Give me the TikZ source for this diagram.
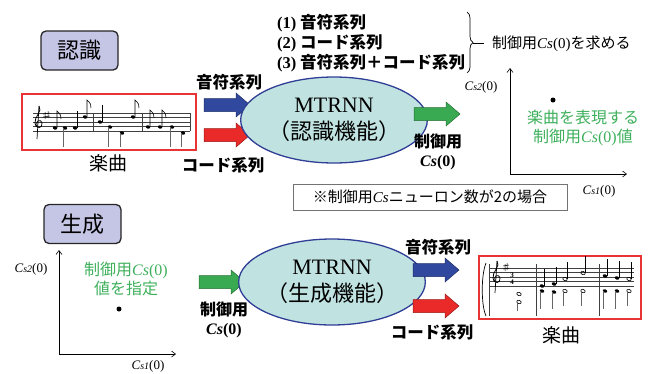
\documentclass[tikz,border=0pt]{standalone}
\usepackage{fontspec}
\setmainfont{Liberation Serif}
\newfontfamily\jp{Noto Sans CJK JP}
\usetikzlibrary{arrows.meta,decorations.pathreplacing,shapes.geometric}
\definecolor{labfill}{RGB}{197,197,229}
\definecolor{ellfill}{RGB}{192,227,225}
\definecolor{elldraw}{RGB}{48,62,150}
\definecolor{arblue}{RGB}{48,72,158}
\definecolor{arred}{RGB}{233,42,40}
\definecolor{argreen}{RGB}{58,170,82}
\definecolor{gtext}{RGB}{62,176,92}
\definecolor{boxred}{RGB}{232,52,52}
\newcommand{\csit}{{\rmfamily\itshape Cs}}
\newcommand{\blockarrow}[4]{%
  \draw[draw=#4!65!black, fill=#4, line width=0.5pt] (#2,#3-6.5) -- ++(32,0) -- ++(0,-5.5)
    -- ++(14,12) -- ++(-14,12) -- ++(0,-5.5) -- ++(-32,0) -- cycle;
  \coordinate (#1) at (#2,#3);}
\begin{document}
\begin{tikzpicture}[x=1pt,y=-1pt,
  lab/.style={draw=black!85, fill=labfill, rounded corners=5pt, line width=1.3pt,
    minimum width=77pt, minimum height=39pt, inner sep=0pt, font=\jp\fontsize{22}{24}\selectfont},
  ell/.style={ellipse, draw=elldraw, fill=ellfill, line width=1.3pt, minimum width=154pt,
    minimum height=86pt, inner sep=0pt, align=center, font=\fontsize{22}{27}\selectfont},
  blab/.style={font=\jp\bfseries\fontsize{16.5}{18}\selectfont, inner sep=0pt},
  jtxt/.style={font=\jp\fontsize{15}{17}\selectfont, inner sep=0pt},
  gtxt/.style={font=\jp\fontsize{16}{19}\selectfont, text=gtext, align=center, inner sep=0pt},
  scorebox/.style={draw=boxred, line width=1.3pt, fill=white},
  axis/.style={-{Straight Barb[length=4pt,width=6pt]}, line width=0.6pt},
  axlab/.style={font=\fontsize{13}{15}\selectfont, inner sep=0pt},
  staff/.style={line width=0.5pt, black!75},
  stem/.style={line width=0.6pt, black!60}
]
\useasboundingbox (0,0) rectangle (654,373);

% ===== recognition =====
\node[lab] (rec) at (79.5,50.5) {認識};

\node[scorebox, minimum width=174pt, minimum height=56pt, inner sep=0pt] (score1) at (109,122) {};
\begin{scope}
  \foreach \yy in {113,117.5,122,126.5,131} \draw[staff] (33,\yy) -- (190,\yy);
  \foreach \xx in {93,142,190} \draw[staff] (\xx,113) -- (\xx,131);
  \draw[line width=0.8pt] (39,106) .. controls (43,111) and (34,117) .. (35,123)
     .. controls (36,130) and (43,128) .. (42,123) .. controls (41,118) and (35,121) .. (37,126);
  \draw[line width=0.7pt] (39,106) -- (37,139);
  \draw[line width=0.5pt] (45,112) -- (45,119) (48,111) -- (48,118) (43,114) -- (50,113) (43,117) -- (50,116);
  \foreach \xx/\yy in {55/128,85/117,133/117,148/127,160/127}{
    \fill[rotate around={-20:(\xx,\yy)}] (\xx,\yy) ellipse (2.2pt and 1.6pt);
    \draw[line width=0.6pt] (\xx+2,\yy) -- (\xx+2,\yy-17) .. controls (\xx+5,\yy-14) and (\xx+7,\yy-12) .. (\xx+6,\yy-9);
  }
  \foreach \xx/\yy in {75/128,100/122}{
    \fill[rotate around={-20:(\xx,\yy)}] (\xx,\yy) ellipse (2.2pt and 1.6pt);
    \draw[line width=0.6pt] (\xx+2,\yy) -- (\xx+2,\yy-17);
  }
  \foreach \xx/\yy in {65/128,110/127,122/133,172/127,183/133}{
    \fill[rotate around={-20:(\xx,\yy)}] (\xx,\yy) ellipse (2.2pt and 1.6pt);
    \draw[stem] (\xx-2,\yy) -- (\xx-2,147);
  }
\end{scope}
\node[font=\jp\fontsize{19}{21}\selectfont, inner sep=0pt] (gakkyoku1) at (108,163) {楽曲};

\node[blab] (onpu1) at (229,82) {音符系列};
\blockarrow{ba1}{204}{105}{arblue}
\blockarrow{ra1}{204}{135}{arred}
\node[blab] (code1) at (223,165) {コード系列};

\node[ell] (mt1) at (334,120) {MTRNN\\{\jp （認識機能）}};

\node[blab, anchor=west, align=left, font=\jp\bfseries\fontsize{16.5}{20}\selectfont] (list) at (277,43)
  {{\rmfamily\bfseries (1)} 音符系列\\{\rmfamily\bfseries (2)} コード系列\\{\rmfamily\bfseries (3)} 音符系列＋コード系列};
\coordinate (brtop) at (467,12);
\coordinate (brbot) at (467,73);
\draw[line width=0.7pt, decorate, decoration={brace, amplitude=6pt}] (brtop) -- (brbot);
\coordinate (brtip) at (473,43);
\coordinate (brend) at (484,43);
\draw[line width=0.7pt] (brtip) -- (brend);
\node[jtxt, anchor=west] (motomeru) at (492,44) {制御用\csit{\rmfamily(0)}を求める};

\blockarrow{ga1}{414}{114}{argreen}
\node[blab, align=center, font=\jp\bfseries\fontsize{16}{19}\selectfont] (cs1) at (438,152)
  {制御用\\{\rmfamily\bfseries\itshape Cs}{\rmfamily\bfseries(0)}};

\coordinate (o1) at (510,174);
\coordinate (y1) at (510,68);
\coordinate (x1) at (627,174);
\draw[axis] (o1) -- (y1);
\draw[axis] (o1) -- (x1);
\node[axlab] (ylab1) at (481,87) {{\itshape C{\fontsize{10}{10}\selectfont s2}}(0)};
\node[axlab] (xlab1) at (599,191) {{\itshape C{\fontsize{10}{10}\selectfont s1}}(0)};
\node[circle, fill=black, inner sep=0pt, minimum size=5pt] (dot1) at (553,100) {};
\node[gtxt] (gt1) at (583,127.5) {楽曲を表現する\\制御用\csit{\rmfamily(0)}値};

\node[draw=black!55, line width=0.8pt, minimum width=274pt, minimum height=26pt, inner sep=0pt,
  font=\jp\fontsize{15}{17}\selectfont] (note) at (430,197) {※制御用\csit ニューロン数が2の場合};

% ===== generation =====
\node[lab] (gen) at (82.5,224) {生成};

\coordinate (o2) at (59,354);
\coordinate (y2) at (59,250);
\coordinate (x2) at (176,354);
\draw[axis] (o2) -- (y2);
\draw[axis] (o2) -- (x2);
\node[axlab] (ylab2) at (31,269) {{\itshape C{\fontsize{10}{10}\selectfont s2}}(0)};
\node[axlab] (xlab2) at (148,366) {{\itshape C{\fontsize{10}{10}\selectfont s1}}(0)};
\node[gtxt] (gt2) at (126,279) {制御用\csit{\rmfamily(0)}\\値を指定};
\node[circle, fill=black, inner sep=0pt, minimum size=5pt] (dot2) at (119,309) {};

\blockarrow{ga2}{199}{282}{argreen}
\node[blab, align=center, font=\jp\bfseries\fontsize{16}{19}\selectfont] (cs2) at (224,320)
  {制御用\\{\rmfamily\bfseries\itshape Cs}{\rmfamily\bfseries(0)}};

\node[ell] (mt2) at (332,282) {MTRNN\\{\jp （生成機能）}};

\node[blab] (onpu2) at (438,247) {音符系列};
\blockarrow{ba2}{413}{270}{arblue}
\blockarrow{ra2}{413}{306}{arred}
\node[blab] (code2) at (432,332) {コード系列};

\node[scorebox, minimum width=162pt, minimum height=63pt, inner sep=0pt] (score2) at (560,287.5) {};
\begin{scope}
  \foreach \yy in {268,272.5,277,281.5,286} \draw[staff] (489,\yy) -- (634,\yy);
  \foreach \xx in {489,536,599} \draw[staff] (\xx,264) -- (\xx,316);
  \draw[line width=0.7pt] (486,263) .. controls (481,275) and (481,305) .. (486,316);
  \draw[line width=0.8pt] (497,261) .. controls (501,266) and (492,272) .. (493,278)
     .. controls (494,285) and (501,283) .. (500,278) .. controls (499,273) and (493,276) .. (495,281);
  \draw[line width=0.7pt] (497,261) -- (495,293);
  \draw[line width=0.5pt] (503,266) -- (509,265) (503,269) -- (509,268) (505,264) -- (505,271) (507,263) -- (507,270);
  \node[font=\bfseries\fontsize{7}{7}\selectfont, inner sep=0pt, align=center] (ts) at (512,279) {3\\4};
  \foreach \xx/\yy in {519/294,519/302,565/291,583/291,629/291}{
    \draw[line width=0.6pt, rotate around={-20:(\xx,\yy)}] (\xx,\yy) ellipse (2.3pt and 1.6pt);
  }
  \draw[stem] (517,302) -- (517,311);
  \foreach \xx in {565,583,629} \draw[stem] (\xx-2,291) -- (\xx-2,306);
  \foreach \xx/\yy in {542/291,554/292,605/291,617/291}{
    \fill[rotate around={-20:(\xx,\yy)}] (\xx,\yy) ellipse (2.3pt and 1.6pt);
    \draw[stem] (\xx-2,\yy) -- (\xx-2,309);
  }
  \foreach \xx/\yy in {542/286,554/284,605/276,617/278}{
    \fill[rotate around={-20:(\xx,\yy)}] (\xx,\yy) ellipse (2.3pt and 1.6pt);
    \draw[line width=0.6pt] (\xx+2,\yy) -- (\xx+2,\yy-17);
  }
  \foreach \xx/\yy in {565/279,583/273,629/279}{
    \draw[line width=0.6pt, rotate around={-20:(\xx,\yy)}] (\xx,\yy) ellipse (2.3pt and 1.6pt);
    \draw[line width=0.6pt] (\xx+2,\yy) -- (\xx+2,\yy-17);
  }
\end{scope}
\node[font=\jp\fontsize{19}{21}\selectfont, inner sep=0pt] (gakkyoku2) at (561,335) {楽曲};
\end{tikzpicture}
\end{document}
